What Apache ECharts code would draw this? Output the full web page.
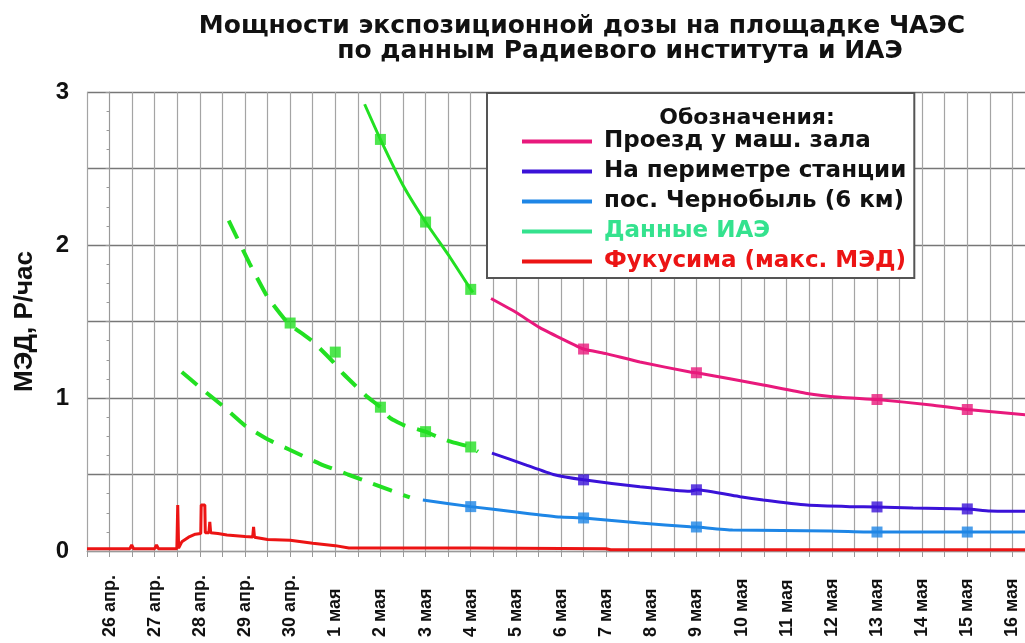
<!DOCTYPE html>
<html>
<head>
<meta charset="utf-8">
<script src="https://cdn.jsdelivr.net/npm/echarts@6/dist/echarts.min.js"></script>
<style>
  html, body { margin: 0; padding: 0; background: #fff; }
  #chart { width: 1025px; height: 643px; }
</style>
</head>
<body>
<div id="chart"></div>
<script>
// подписи дней (0 = 26 апр.)
const dayLabels = ['26 апр.', '27 апр.', '28 апр.', '29 апр.', '30 апр.', '1 мая', '2 мая', '3 мая',
  '4 мая', '5 мая', '6 мая', '7 мая', '8 мая', '9 мая', '10 мая', '11 мая', '12 мая', '13 мая',
  '14 мая', '15 мая', '16 мая']
const yLabels = ['0', '1', '2', '3']

// Проезд у маш. зала
const hallLine = [[8.45, 1.65], [9.0, 1.56], [9.53, 1.46], [10.0, 1.39], [10.5, 1.32], [11.0, 1.29],
  [11.75, 1.235], [12.86, 1.17], [13.0, 1.165], [14.48, 1.085], [15.45, 1.03], [16.19, 1.005],
  [17.0, 0.99], [18.2, 0.955], [19.0, 0.925], [20.5, 0.885]]
const hallMarks = [[10.5, 1.32], [13.0, 1.165], [17.0, 0.99], [19.0, 0.925]]

// На периметре станции
const perimLine = [[8.47, 0.64], [9.2, 0.565], [9.83, 0.50], [10.5, 0.465], [11.75, 0.42],
  [12.86, 0.39], [13.0, 0.40], [13.97, 0.355], [14.48, 0.333], [15.45, 0.30], [16.4, 0.29],
  [17.0, 0.288], [17.8, 0.281], [19.0, 0.275], [19.5, 0.262], [20.5, 0.26]]
const perimMarks = [[10.5, 0.465], [13.0, 0.40], [17.0, 0.288], [19.0, 0.275]]

// пос. Чернобыль (6 км)
const townLine = [[6.94, 0.333], [8.0, 0.29], [9.0, 0.255], [9.98, 0.222], [10.5, 0.216],
  [11.75, 0.183], [12.86, 0.158], [13.0, 0.157], [13.8, 0.137], [15.96, 0.131], [17.0, 0.124],
  [19.0, 0.124], [20.5, 0.124]]
const townMarks = [[8.0, 0.29], [10.5, 0.216], [13.0, 0.157], [17.0, 0.124], [19.0, 0.124]]

// Данные ИАЭ
const iaeTop = [[5.65, 2.92], [6.0, 2.69], [6.5, 2.39], [7.0, 2.15], [7.54, 1.92], [8.0, 1.71], [8.05, 1.69]]
const iaeMid = [[2.64, 2.16], [3.1, 1.88], [3.5, 1.66], [3.95, 1.49], [4.32, 1.41], [4.5, 1.37],
  [4.94, 1.24], [5.17, 1.16], [5.7, 1.01], [6.0, 0.94], [6.21, 0.87], [6.54, 0.82], [7.0, 0.78],
  [7.27, 0.745], [7.61, 0.71], [8.0, 0.68], [8.16, 0.65]]
const iaeLow = [[1.6, 1.17], [2.0, 1.07], [2.5, 0.95], [3.0, 0.82], [3.5, 0.73], [4.0, 0.66],
  [4.66, 0.57], [5.28, 0.50], [5.83, 0.44], [6.65, 0.35]]
const iaeMarks = [[6.0, 2.69], [7.0, 2.15], [8.0, 1.71], [4.0, 1.49], [5.0, 1.30], [6.0, 0.94],
  [7.0, 0.78], [8.0, 0.68]]

// Фукусима (макс. МЭД)
const fukuLine = [[-0.5, 0.015], [0.45, 0.015], [0.49, 0.04], [0.53, 0.015], [1.0, 0.015],
  [1.04, 0.04], [1.08, 0.015], [1.49, 0.015], [1.51, 0.30], [1.53, 0.02], [1.6, 0.06],
  [1.75, 0.09], [1.9, 0.11], [2.02, 0.115], [2.03, 0.30], [2.11, 0.30], [2.12, 0.12],
  [2.2, 0.12], [2.22, 0.19], [2.24, 0.12], [2.4, 0.115], [2.6, 0.105], [3.0, 0.095],
  [3.17, 0.092], [3.19, 0.157], [3.21, 0.09], [3.5, 0.075], [4.0, 0.07], [4.5, 0.05],
  [5.0, 0.035], [5.3, 0.02], [8.0, 0.02], [11.0, 0.015], [11.1, 0.008], [20.5, 0.008]]

const cHall = '#e8197c'
const cPerim = '#3a12d8'
const cTown = '#1e86e6'
const cIae = '#22e022'
const cIaeLegend = '#34e28e'
const cFuku = '#ec1414'

const nHall = 'Проезд у маш. зала'
const nPerim = 'На периметре станции'
const nTown = 'пос. Чернобыль (6 км)'
const nIae = 'Данные ИАЭ'
const nFuku = 'Фукусима (макс. МЭД)'

function lineSeries(name, data, color, dashed, smooth) {
  return {
    name: name,
    type: 'line',
    data: data,
    symbol: 'none',
    smooth: smooth,
    lineStyle: { color: color, width: dashed ? 4 : 3, type: dashed ? [20, 12] : 'solid' },
    itemStyle: { color: color },
    z: 3
  }
}

function markSeries(name, data, color) {
  return {
    name: name,
    type: 'scatter',
    data: data,
    symbol: 'rect',
    symbolSize: 11,
    itemStyle: { color: color },
    z: 4
  }
}

const font = 'Liberation Sans, Arial, sans-serif'
const wideFont = 'DejaVu Sans, Liberation Sans, sans-serif'

let myChart = echarts.init(document.getElementById('chart'))
myChart.setOption({
  backgroundColor: '#fff',
  animation: false,
  title: [
    {
      text: 'Мощности экспозиционной дозы на площадке ЧАЭС',
      left: 577,
      top: 9,
      textAlign: 'center',
      textStyle: { fontFamily: wideFont, fontSize: 25, fontWeight: 'bold', color: '#111' }
    },
    {
      text: 'по данным Радиевого института и ИАЭ',
      left: 615,
      top: 34,
      textAlign: 'center',
      textStyle: { fontFamily: wideFont, fontSize: 25, fontWeight: 'bold', color: '#111' }
    },
    {
      text: 'Обозначения:',
      left: 742,
      top: 102,
      textAlign: 'center',
      textStyle: { fontFamily: wideFont, fontSize: 22, fontWeight: 'bold', color: '#111' }
    }
  ],
  legend: {
    orient: 'vertical',
    left: 487,
    top: 93,
    padding: [37, 8, 5, 35],
    backgroundColor: '#fff',
    borderColor: '#555',
    borderWidth: 2,
    icon: 'rect',
    itemWidth: 70,
    itemHeight: 4,
    itemGap: 7,
    textStyle: { fontFamily: wideFont, fontSize: 23, fontWeight: 'bold', color: '#111', padding: [0, 0, 0, 7] },
    data: [
      { name: nHall, itemStyle: { color: cHall } },
      { name: nPerim, itemStyle: { color: cPerim } },
      { name: nTown, itemStyle: { color: cTown } },
      { name: nIae, itemStyle: { color: cIaeLegend }, textStyle: { color: cIaeLegend } },
      { name: nFuku, itemStyle: { color: cFuku }, textStyle: { color: cFuku } }
    ]
  },
  grid: { left: 87, right: -10, top: 92, bottom: 92, outerBoundsMode: 'none' },
  xAxis: {
    type: 'value',
    min: -0.5,
    max: 20.5,
    interval: 0.5,
    axisLine: { show: true, lineStyle: { color: '#999' } },
    axisTick: { show: true, length: 6, lineStyle: { color: '#999' } },
    splitLine: { show: true, lineStyle: { color: '#a4a4a4', width: 1.2 } },
    axisLabel: {
      rotate: 90,
      align: 'left',
      margin: 86,
      fontFamily: font,
      fontSize: 18,
      fontWeight: 'bold',
      color: '#111',
      formatter: v => (Number.isInteger(v) && dayLabels[v]) ? dayLabels[v] : ''
    }
  },
  yAxis: {
    type: 'value',
    min: 0,
    max: 3,
    interval: 0.5,
    name: 'МЭД, Р/час',
    nameLocation: 'middle',
    nameGap: 49,
    nameTextStyle: { fontFamily: font, fontSize: 26, fontWeight: 'bold', color: '#111' },
    axisLine: { show: true, lineStyle: { color: '#999' } },
    axisTick: { show: true, length: 4, lineStyle: { color: '#999' } },
    minorTick: { show: true, splitNumber: 4, length: 3, lineStyle: { color: '#999' } },
    splitLine: { show: true, lineStyle: { color: '#777', width: 1.3 } },
    axisLabel: {
      margin: 18,
      fontFamily: font,
      fontSize: 24,
      fontWeight: 'bold',
      color: '#111',
      formatter: v => Number.isInteger(v) ? yLabels[v] : ''
    }
  },
  series: [
    lineSeries(nFuku, fukuLine, cFuku, false, false),
    lineSeries(nIae, iaeLow, cIae, true, 0.15),
    lineSeries(nIae, iaeMid, cIae, true, 0.15),
    lineSeries(nIae, iaeTop, cIae, false, 0.15),
    markSeries(nIae, iaeMarks, cIae),
    lineSeries(nTown, townLine, cTown, false, 0.15),
    markSeries(nTown, townMarks, cTown),
    lineSeries(nPerim, perimLine, cPerim, false, 0.15),
    markSeries(nPerim, perimMarks, cPerim),
    lineSeries(nHall, hallLine, cHall, false, 0.15),
    markSeries(nHall, hallMarks, cHall)
  ]
})
</script>
</body>
</html>
